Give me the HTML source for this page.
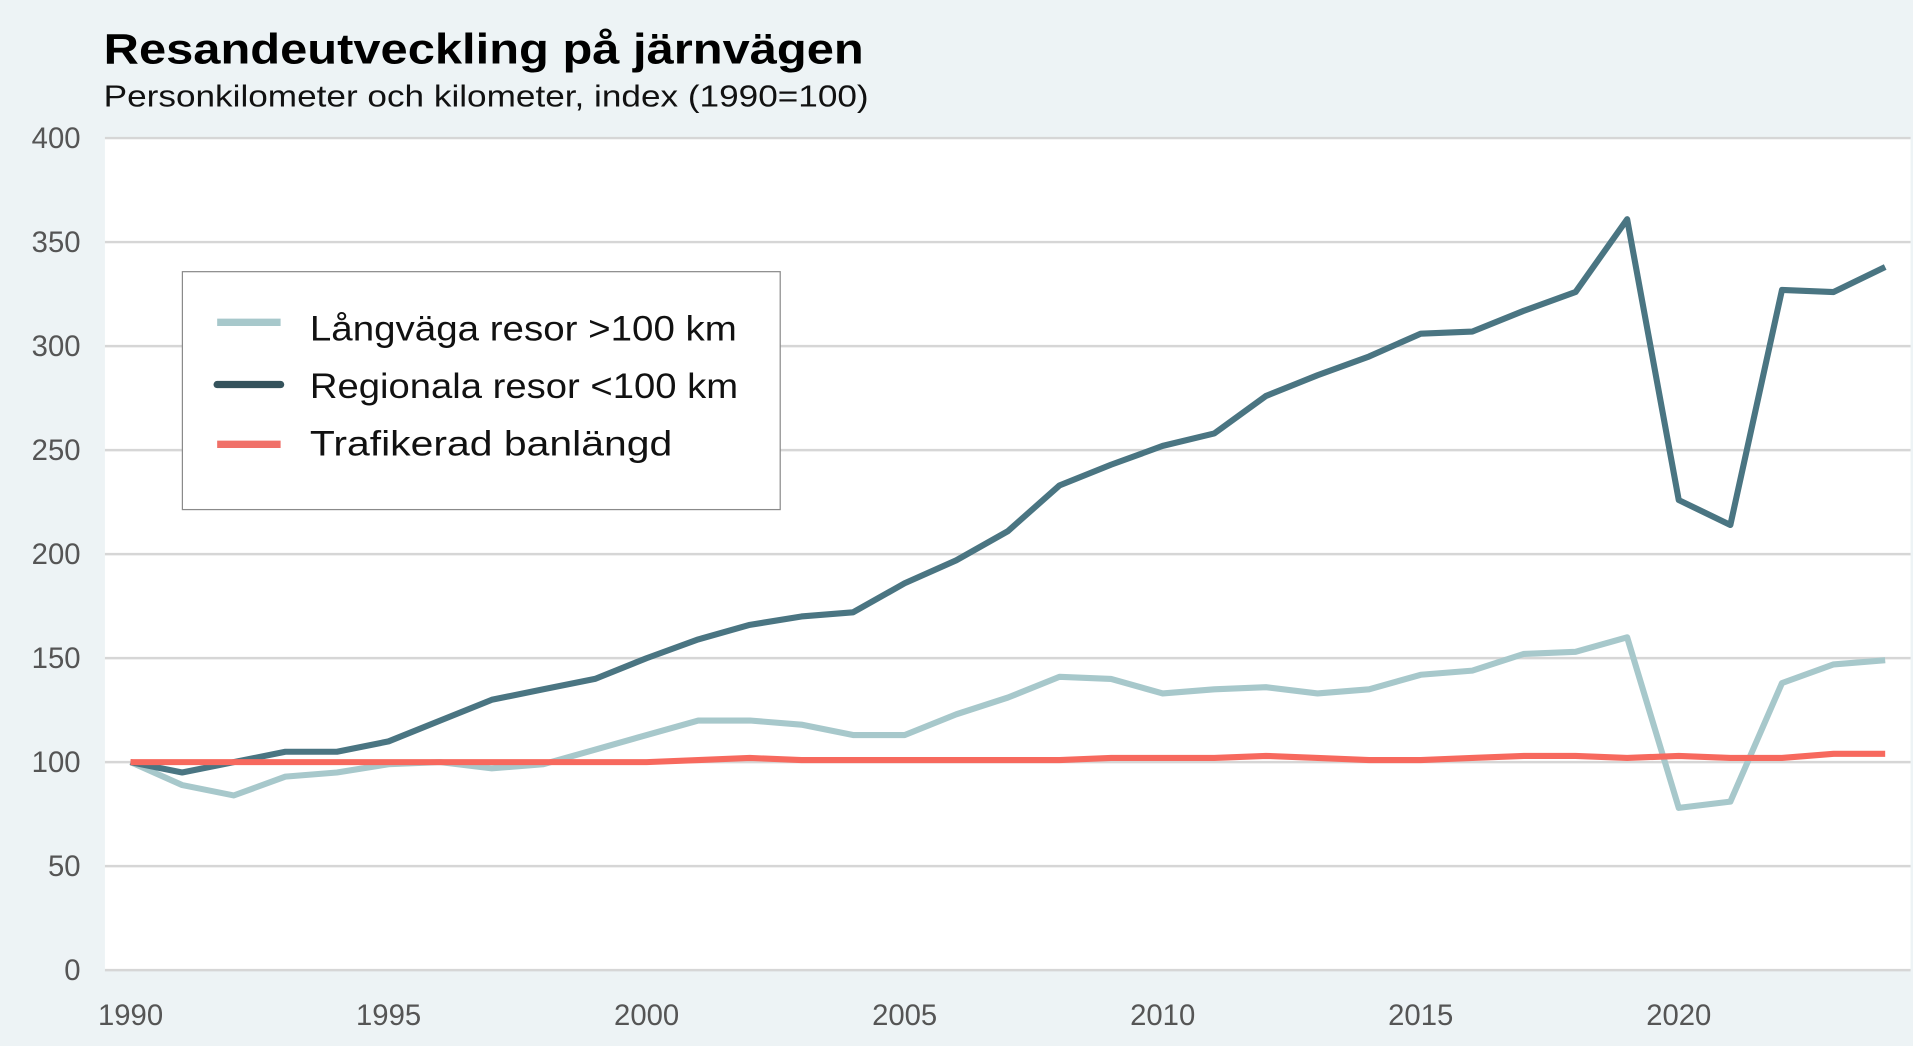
<!DOCTYPE html>
<html><head><meta charset="utf-8"><style>
html,body{margin:0;padding:0;background:#edf3f5;}
svg{display:block;}
text{font-family:"Liberation Sans",sans-serif;}
</style></head><body>
<svg id="c" width="1913" height="1046" viewBox="0 0 1568 857" xmlns="http://www.w3.org/2000/svg">
<rect width="1568" height="857" fill="#edf3f5"/>
<text x="85" y="52" font-size="35" font-weight="bold" fill="#000" textLength="623" lengthAdjust="spacingAndGlyphs">Resandeutveckling på järnvägen</text>
<text x="85" y="87" font-size="25" fill="#111" textLength="627" lengthAdjust="spacingAndGlyphs">Personkilometer och kilometer, index (1990=100)</text>
<rect x="86" y="113" width="1480" height="682" fill="#fff"/>
<g id="grid"></g>
<g id="lines"></g>
<rect x="149.5" y="222.5" width="490" height="195" fill="#fff" stroke="#8a8a8a" stroke-width="1"/>
<line x1="178" y1="264" x2="230" y2="264" stroke="#a7c8cb" stroke-width="6"/>
<line x1="178" y1="315" x2="230" y2="315" stroke="#35535c" stroke-width="6" stroke-linecap="round"/>
<line x1="178" y1="364" x2="230" y2="364" stroke="#f07068" stroke-width="6"/>
<text x="254" y="279" font-size="29" fill="#111" textLength="350" lengthAdjust="spacingAndGlyphs">Långväga resor &gt;100 km</text>
<text x="254" y="326" font-size="29" fill="#111" textLength="351" lengthAdjust="spacingAndGlyphs">Regionala resor &lt;100 km</text>
<text x="254" y="373" font-size="29" fill="#111" textLength="297" lengthAdjust="spacingAndGlyphs">Trafikerad banlängd</text>
</svg>
<script>
var ns="http://www.w3.org/2000/svg";
function el(t,a,p){var e=document.createElementNS(ns,t);for(var k in a)e.setAttribute(k,a[k]);p.appendChild(e);return e;}
var g=document.getElementById('grid'),L=document.getElementById('lines');
function Y(v){return 795-v*1.705;}
function X(y){return 107+(y-1990)*42.3;}
for(var v=0;v<=400;v+=50){
 el('line',{x1:86,x2:1566,y1:Y(v),y2:Y(v),stroke:'#d6d6d6','stroke-width':2},g);
 var t=el('text',{x:66,y:Y(v)+8,'font-size':24,fill:'#555','text-anchor':'end'},g);t.textContent=v;
}
for(var y=1990;y<=2020;y+=5){var t=el('text',{x:X(y),y:840,'font-size':24,fill:'#555','text-anchor':'middle'},g);t.textContent=y;}
var reg=[100,95,100,105,105,110,120,130,135,140,150,159,166,170,172,186,197,211,233,243,252,258,276,286,295,306,307,317,326,361,226,214,327,326,338];
var lng=[100,89,84,93,95,99,100,97,99,106,113,120,120,118,113,113,123,131,141,140,133,135,136,133,135,142,144,152,153,160,78,81,138,147,149];
var rail=[100,100,100,100,100,100,100,100,100,100,100,101,102,101,101,101,101,101,101,102,102,102,103,102,101,101,102,103,103,102,103,102,102,104,104];
function pl(d,c){var p=d.map(function(v,i){return X(1990+i).toFixed(1)+','+Y(v).toFixed(1)}).join(' ');
 el('polyline',{points:p,fill:'none',stroke:c,'stroke-width':5,'stroke-linejoin':'round'},L);}
pl(lng,'#a7c8cb');pl(reg,'#4a7582');pl(rail,'#f7695e');
</script>
</body></html>
